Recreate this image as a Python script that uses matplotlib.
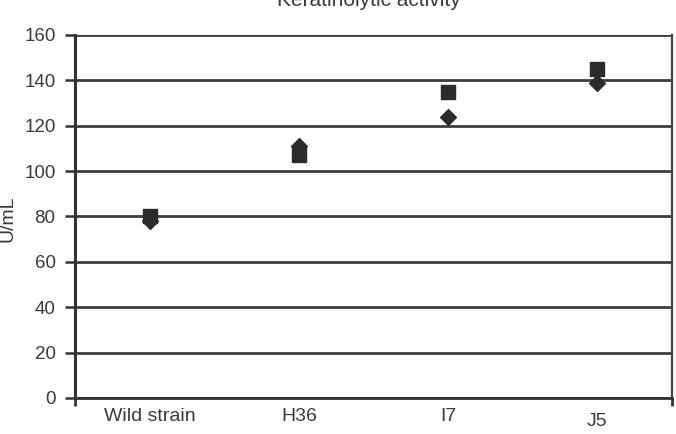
import matplotlib
matplotlib.use("Agg")
import matplotlib.pyplot as plt
from matplotlib.transforms import ScaledTranslation

# data
strains = ["Wild strain", "H36", "I7", "J5"]
square_vals = [80, 107, 135, 145]
diamond_vals = [78, 111, 124, 139]
yticks = [0, 20, 40, 60, 80, 100, 120, 140, 160]

plt.rcParams["font.family"] = ["Liberation Sans", "DejaVu Sans"]

fig = plt.figure(figsize=(6.76, 4.34), dpi=100)
ax = fig.add_axes([75 / 676, 1 - 398 / 434, 597 / 676, 363 / 434])

xs = range(len(strains))
ax.set_xlim(-0.5, 3.5)
ax.set_ylim(0, 160)

for y in yticks:
    ax.axhline(y, color="#3d3d3d", lw=2.0, zorder=1)

ax.scatter(xs, square_vals, marker="s", s=100, color="#2b2b2b", zorder=3)
ax.scatter(xs, diamond_vals, marker="D", s=65, color="#2b2b2b", zorder=4)

ax.set_yticks(yticks)
ax.set_yticklabels([str(v) for v in yticks], fontsize=13.5, color="#3a3a3a")
ax.set_xticks(list(xs))
ax.set_xticklabels(strains, fontsize=14, color="#3a3a3a")
ax.set_xticks([-0.5, 3.5], minor=True)
ax.tick_params(axis="x", which="major", length=0, pad=7)
ax.tick_params(axis="x", which="minor", length=6, width=2, color="#333333")
ax.tick_params(axis="y", length=7, width=1.8, color="#333333", pad=7)

# J5 label sits a little lower in the reference
lab = ax.get_xticklabels()[3]
lab.set_transform(lab.get_transform() + ScaledTranslation(0, -4 / 72, fig.dpi_scale_trans))

ax.spines["left"].set_linewidth(2.2)
ax.spines["left"].set_color("#333333")
ax.spines["right"].set_linewidth(1.6)
ax.spines["right"].set_color("#444444")
ax.spines["top"].set_visible(False)
ax.spines["bottom"].set_linewidth(2.0)
ax.spines["bottom"].set_color("#333333")

fig.text(8 / 676, 1 - 219 / 434, "U/mL", fontsize=14, color="#3a3a3a",
         rotation=90, ha="center", va="center")
fig.text(369 / 676, 1 - 6 / 434, "Keratinolytic activity", fontsize=15,
         color="#3a3a3a", ha="center", va="baseline")

fig.savefig("out.png", dpi=100)
